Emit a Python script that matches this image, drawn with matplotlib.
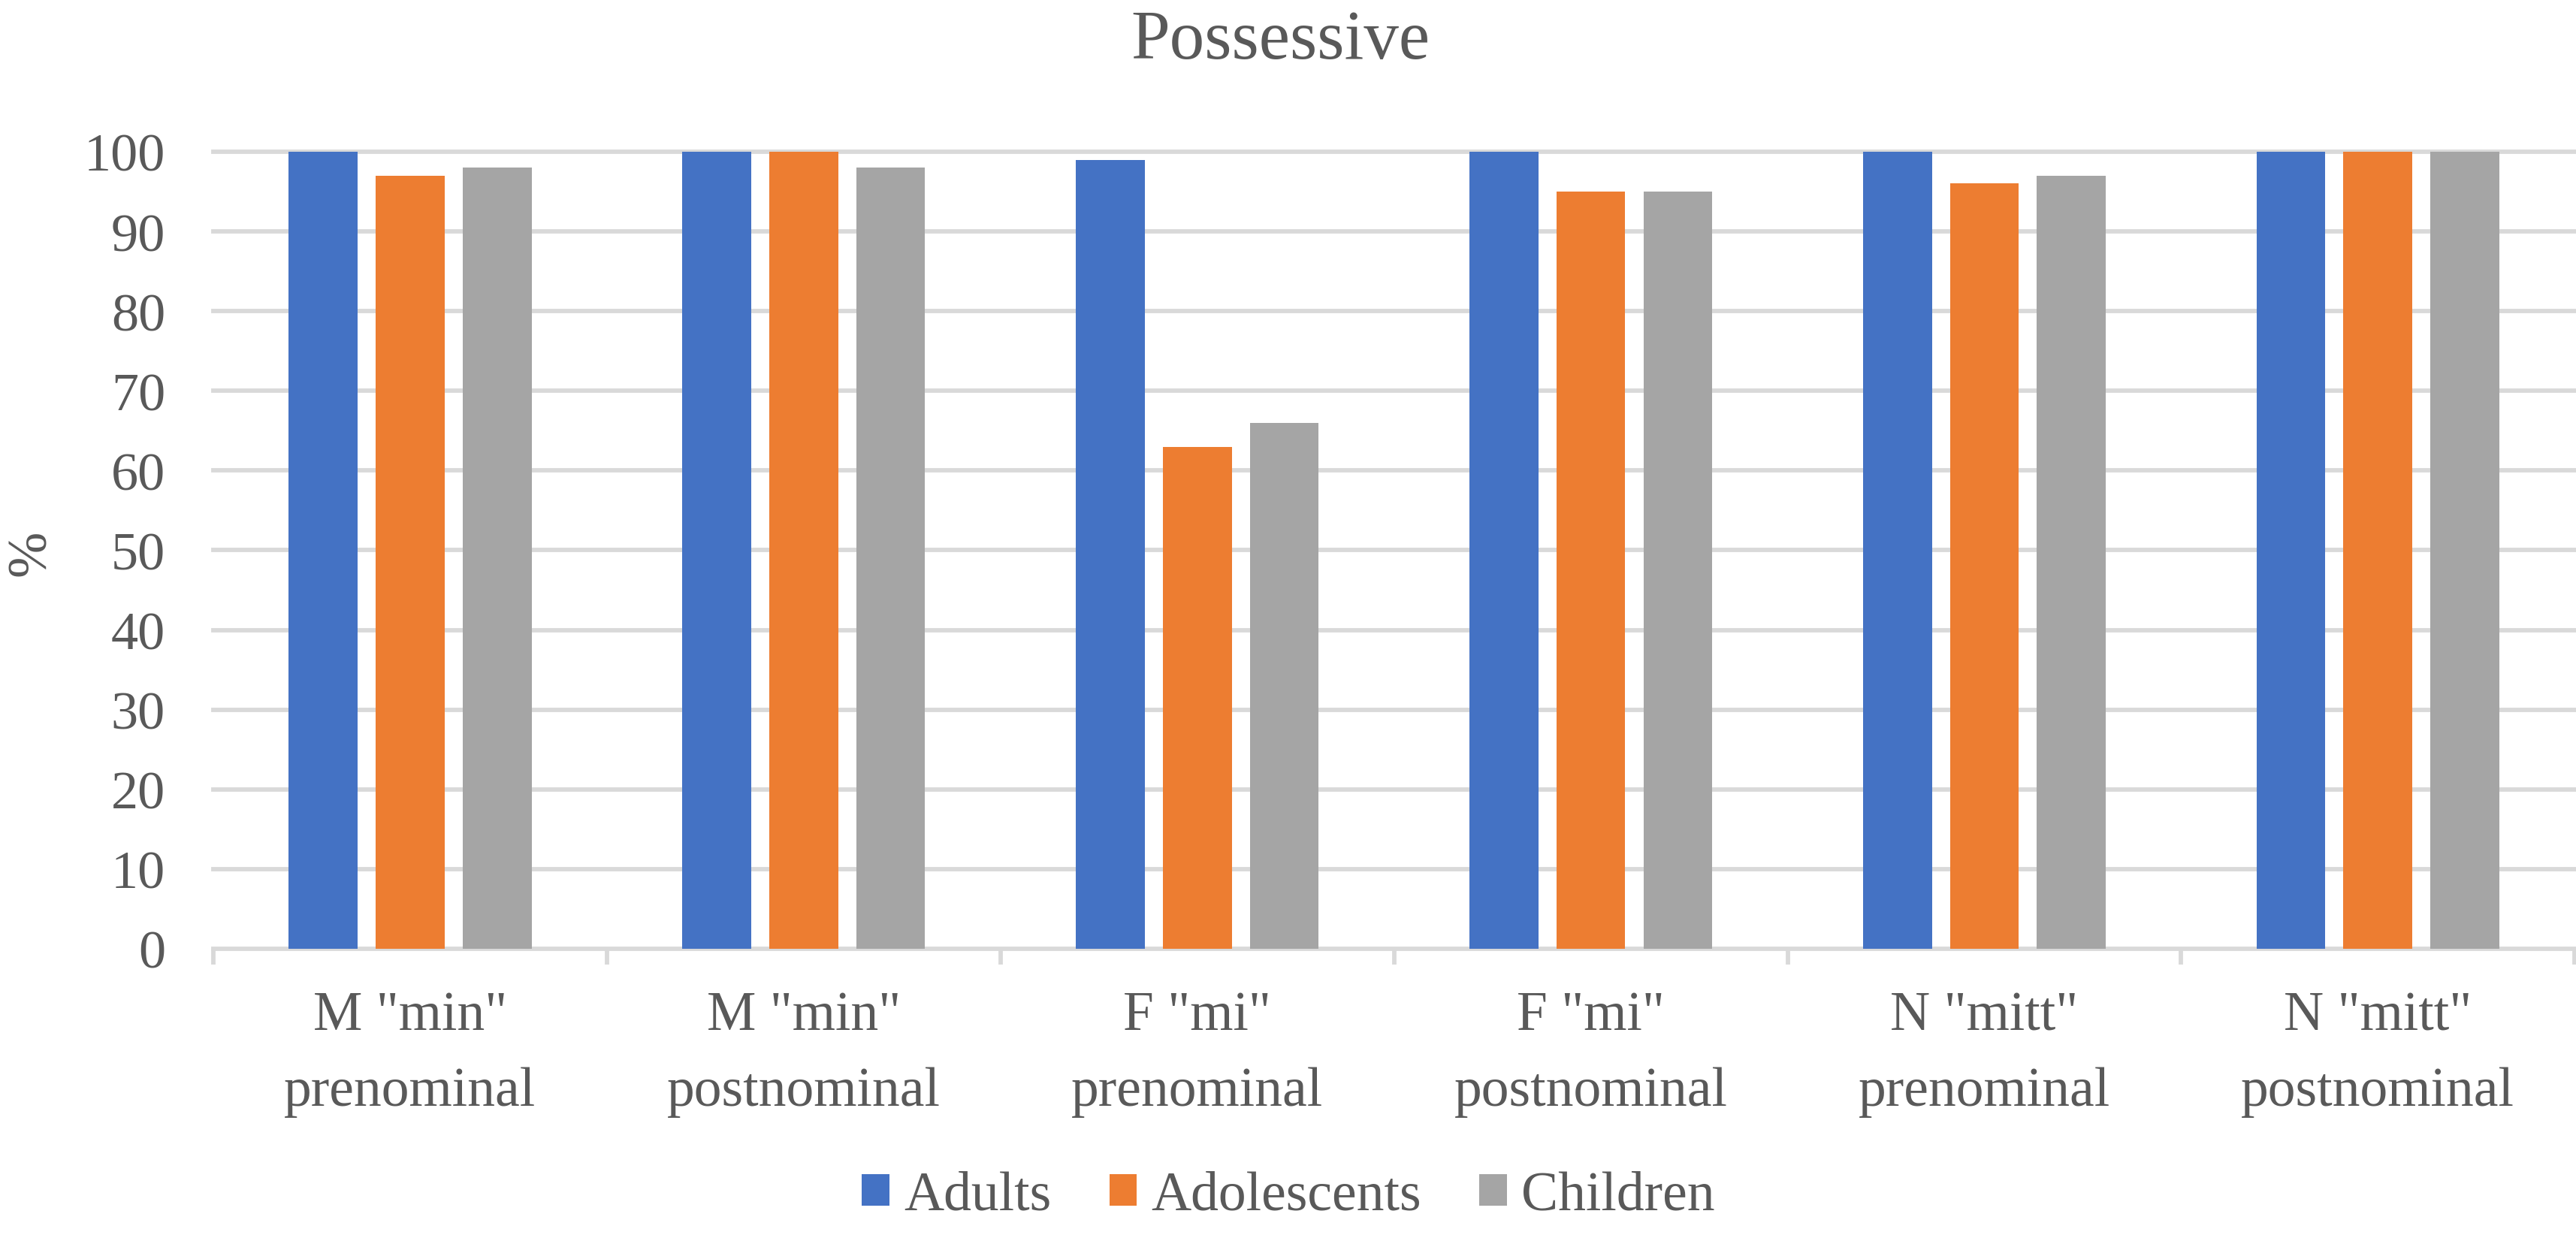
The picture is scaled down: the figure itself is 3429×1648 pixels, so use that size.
import numpy as np
import matplotlib
matplotlib.use("Agg")
import matplotlib.pyplot as plt

plt.rcParams['font.family'] = ['Liberation Serif', 'DejaVu Serif']

# --- data ---
categories = ['M "min"\nprenominal', 'M "min"\npostnominal',
              'F "mi"\nprenominal', 'F "mi"\npostnominal',
              'N "mitt"\nprenominal', 'N "mitt"\npostnominal']
series_names = ['Adults', 'Adolescents', 'Children']
adults = [100, 100, 99, 100, 100, 100]
adolescents = [97, 100, 63, 95, 96, 100]
children = [98, 98, 66, 95, 97, 100]
yticks = list(range(0, 101, 10))

colors = ['#4472C4', '#ED7D31', '#A5A5A5']
text_col = '#595959'
grid_col = '#D9D9D9'

fig = plt.figure(figsize=(34.3, 16.49), dpi=100)
ax = fig.add_axes([0.0828, 0.2335, 0.9164, 0.6434])

x = np.arange(len(categories))
width = 0.175
offset = 0.221
for i, (name, vals) in enumerate(zip(series_names, [adults, adolescents, children])):
    ax.bar(x + (i - 1) * offset, vals, width, color=colors[i], label=name, zorder=3)

ax.set_xlim(-0.5, len(categories) - 0.5)
ax.set_ylim(0, 100)

# horizontal gridlines
for v in yticks[1:]:
    ax.axhline(v, color=grid_col, lw=4.2, zorder=1, clip_on=False)

for s in ['top', 'right', 'left']:
    ax.spines[s].set_visible(False)
ax.spines['bottom'].set_color(grid_col)
ax.spines['bottom'].set_linewidth(4.2)
ax.spines['bottom'].set_zorder(2)

ax.set_yticks(yticks)
ax.set_yticklabels([str(v) for v in yticks])
ax.tick_params(axis='y', length=0, pad=46, labelsize=52, labelcolor=text_col)

# group separator ticks and centred category labels
ax.set_xticks(np.arange(-0.5, len(categories), 1.0))
ax.set_xticklabels([])
ax.tick_params(axis='x', which='major', length=15, width=4.2, color=grid_col)
ax.set_xticks(x, minor=True)
ax.set_xticklabels(categories, minor=True)
ax.tick_params(axis='x', which='minor', length=0, pad=40, labelsize=53, labelcolor=text_col)
for lab in ax.get_xticklabels(minor=True):
    lab.set_linespacing(1.65)

fig.text(0.497, 0.9527, 'Possessive', ha='center', va='baseline',
         fontsize=67, color=text_col)
fig.text(0.0122, 0.5537, '%', rotation=90, ha='center', va='center',
         fontsize=53, color=text_col)

leg = fig.legend(loc='center', bbox_to_anchor=(0.5, 0.034), ncol=3, frameon=False,
                 fontsize=53, handlelength=0.5, handleheight=0.5,
                 handletextpad=0.26, columnspacing=1.05, labelcolor=text_col)

fig.savefig('out.png', dpi=100)
